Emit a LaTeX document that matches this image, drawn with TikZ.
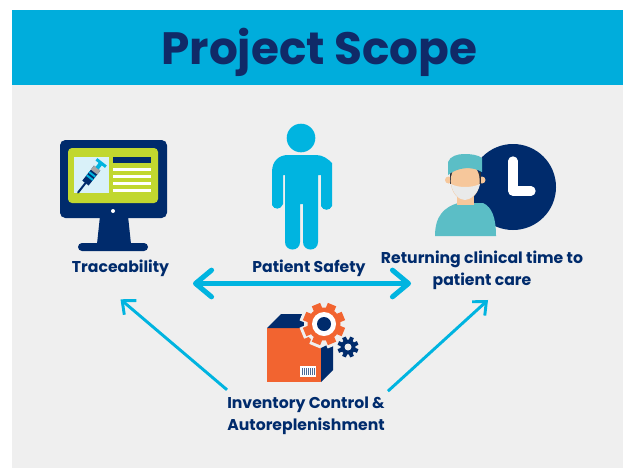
\documentclass[tikz,border=0pt]{standalone}
\usepackage{fontspec}
\setmainfont{Poppins}
\usetikzlibrary{arrows.meta,calc}
\definecolor{bgc}{HTML}{EFEFEF}
\definecolor{barc}{HTML}{00ADDC}
\definecolor{navy}{HTML}{002B6C}
\definecolor{titlec}{HTML}{102A68}
\definecolor{sky}{HTML}{00B4E0}
\definecolor{lime}{HTML}{C1D72F}
\definecolor{pale}{HTML}{D9F1F9}
\definecolor{orng}{HTML}{F26430}
\definecolor{teal1}{HTML}{5BBEC6}
\definecolor{skin}{HTML}{F6C79B}
\definecolor{maskc}{HTML}{E9EAEA}
\definecolor{hairc}{HTML}{2B2F3A}
\tikzset{
  label text/.style={font=\fontsize{11.75}{16.3}\selectfont\bfseries, text=navy, align=center, inner sep=0pt},
  double link/.style={draw=sky, line width=3.8pt, line cap=round, {Straight Barb[length=12pt,width=20pt,round]}-{Straight Barb[length=12pt,width=20pt,round]}},
  thin link/.style={draw=sky, line width=2.2pt, -{Straight Barb[length=8pt,width=14pt]}},
}
% centre x, centre y, radius, tooth half-width, tooth tip radius, colour
\newcommand{\gearfill}[6]{%
  \fill[#6] (#1,#2) circle (#3);
  \foreach \ang in {0,45,...,315}{
    \fill[#6, rotate around={\ang+22.5:(#1,#2)}] (#1-#4,#2) rectangle (#1+#4,#2-#5);
  }
}
\begin{document}
\begin{tikzpicture}[x=0.75pt,y=-0.75pt]
\useasboundingbox (0,0) rectangle (623,468);
\fill[white] (0,0) rectangle (623,468);
\fill[bgc] (12,85) rectangle (623,468);
\fill[barc] (12,10) rectangle (623,85);
\node[inner sep=0pt, text=titlec, font=\fontsize{34}{36}\selectfont\bfseries] (title) at (319.5,52) {Project Scope};

% monitor
\fill[navy, rounded corners=4pt] (60,140) rectangle (167,218);
\fill[navy] (100,216) -- (128,216) -- (131,244) -- (97,244) -- cycle;
\fill[navy, rounded corners=3pt] (78,243) rectangle (148,251);
\fill[lime, rounded corners=3pt] (68,148) rectangle (158,203);
\fill[pale] (74,157) rectangle (109,193);
\fill[navy] (113,157) rectangle (151,163);
\foreach \yy in {167.5,175,182,189}{\fill[white] (113,\yy) rectangle (151,\yy+3);}
\fill[white] (113,211) circle (2);
% syringe
\begin{scope}[shift={(91,176)},rotate=52]
  \fill[navy] (-9,-4) rectangle (10,4);
  \draw[navy,line width=1.5pt,line cap=round] (-9,0) -- (-21,0);
  \fill[sky] (-3,-4) rectangle (-1,4);
  \fill[sky] (1,-4) rectangle (3,4);
  \fill[gray!70] (5,-4) rectangle (10,4);
  \fill[sky] (10,-2) rectangle (16,2);
  \fill[sky] (15,-6) rectangle (18,6);
\end{scope}

% person
\fill[sky] (301,138) circle (14.3);
\fill[sky] (272,172) .. controls (272,161) and (279,155) .. (288,155)
  -- (316,155) .. controls (323,155) and (328,159) .. (332,163)
  -- (332,206) .. controls (330,211) and (323,211) .. (321,206)
  -- (321,175) -- (318,175) -- (318,242)
  .. controls (318,252) and (303,252) .. (303,242)
  -- (303,204) -- (300,204) -- (300,242)
  .. controls (300,252) and (285,252) .. (285,242)
  -- (285,175) -- (283,175) -- (283,204)
  .. controls (281,210) and (274,210) .. (272,205) -- cycle;

% clinician + clock
\fill[navy] (513,187) circle (43);
\draw[white,line width=7pt,line cap=round,line join=round] (513,161) -- (513,191) -- (531,191);
\fill[teal1] (435,236) .. controls (435,215) and (445,207) .. (458,203)
  -- (483,203) .. controls (492,207) and (496,218) .. (496,236) -- cycle;
\fill[skin] (457,195) rectangle (474,205);
\fill[skin] (448.5,180) circle (3.5);
\fill[skin] (482,180) circle (3.5);
\fill[hairc] (450,172) rectangle (481,184);
\fill[skin] (465.2,181) ellipse (14.5 and 19);
\fill[maskc] (451,184) .. controls (458,188) and (472,188) .. (480,184) .. controls (478,194) and (470,200) .. (465,200)
  .. controls (459,200) and (453,194) .. (451,184) -- cycle;
\fill[teal1] (448,175) -- (448,162) .. controls (450,156) and (458,154) .. (464,154)
  .. controls (472,154) and (478,155) .. (482,158)
  -- (482,172) .. controls (472,166) and (458,167) .. (448,175) -- cycle;

% box + gears
\fill[orng] (267,328) rectangle (321,382);
\fill[navy] (267,328) -- (281,314) -- (306,314) -- (310,328) -- cycle;
\fill[navy] (321,348) -- (333,342) -- (333,370) -- (321,382) -- cycle;
\fill[white] (300,366) rectangle (316,377);
\foreach \xx in {302,304,306,308,310,312,314}{\fill[navy!70] (\xx,368) rectangle (\xx+1,375);}
\gearfill{324}{324}{20}{6}{24}{bgc}
\gearfill{324}{324}{16.5}{4.5}{21}{orng}
\fill[white] (324,324) circle (12);
\fill[navy] (324,324) circle (7);
\gearfill{348}{347}{7.5}{2}{10.5}{navy}
\fill[bgc] (348,347) circle (3.5);

% labels
\node[label text] (trace) at (120.5,268) {Traceability};
\node[label text] (safety) at (309,268) {Patient Safety};
\node[label text] (ret) at (482,270.5) {Returning clinical time to\\patient care};
\node[label text] (inv) at (306,415.5) {Inventory Control \&\\Autoreplenishment};

% connectors
\coordinate (dl) at (193,283.5);
\coordinate (dr) at (411,283.5);
\draw[double link] (dl) -- (dr);
\draw[thin link] ([yshift=5pt]inv.north west) -- ([yshift=-17pt]trace.south);
\draw[thin link] ([xshift=2.2pt,yshift=4pt]inv.north east) -- ([xshift=4.5pt,yshift=-7.5pt]ret.south);
\end{tikzpicture}
\end{document}
